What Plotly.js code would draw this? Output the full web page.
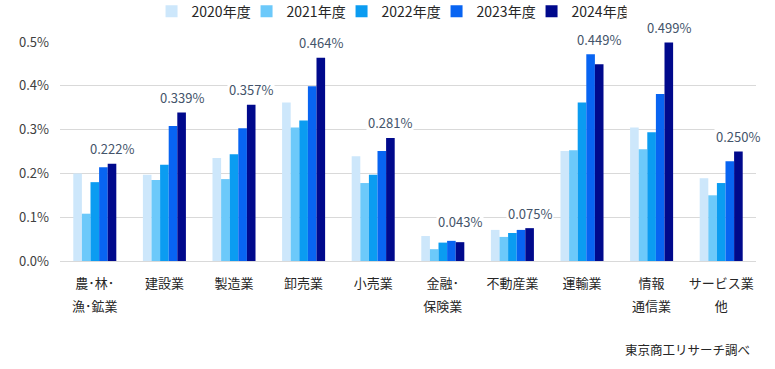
<!DOCTYPE html>
<html>
<head>
<meta charset="utf-8">
<script src="https://cdn.plot.ly/plotly-3.0.1.min.js"></script>
<style>html,body{margin:0;padding:0;background:#fff;}#chart{width:775px;height:369px;}</style>
</head>
<body>
<div id="chart"></div>
<script>
// Categories (two-line labels)
const categoriesLine1 = ["農･林･", "建設業", "製造業", "卸売業", "小売業", "金融･", "不動産業", "運輸業", "情報", "サービス業"];
const categoriesLine2 = ["漁･鉱業", "", "", "", "", "保険業", "", "", "通信業", "他"];

const seriesNames = ["2020年度", "2021年度", "2022年度", "2023年度", "2024年度"];
// values in %
const v2020 = [0.200, 0.197, 0.235, 0.362, 0.239, 0.057, 0.071, 0.251, 0.305, 0.189];
const v2021 = [0.108, 0.185, 0.187, 0.305, 0.178, 0.027, 0.055, 0.253, 0.255, 0.150];
const v2022 = [0.180, 0.220, 0.244, 0.321, 0.197, 0.042, 0.064, 0.362, 0.294, 0.178];
const v2023 = [0.214, 0.308, 0.303, 0.399, 0.251, 0.046, 0.071, 0.472, 0.381, 0.228];
const v2024 = [0.222, 0.339, 0.357, 0.464, 0.281, 0.043, 0.075, 0.449, 0.499, 0.250];
const yTickVals = [0, 0.1, 0.2, 0.3, 0.4, 0.5];
const sourceNote = "東京商工リサーチ調べ";

const colors = ["#cde7fb", "#6cc9fa", "#0b9cf1", "#0864f2", "#00098c"];
const allSeries = [v2020, v2021, v2022, v2023, v2024];
const FONT = "'Noto Sans CJK JP', 'Noto Sans', sans-serif";
const bargap = 0.382;

const xIdx = categoriesLine1.map((_, i) => i);
const tickText = categoriesLine1.map((a, i) => {
  const b = categoriesLine2[i];
  const s = '<span style="font-size:13px">' + a + '</span>';
  return b ? s + '<br><span style="font-size:13px">' + b + '</span>' : s;
});

const traces = allSeries.map((vals, k) => ({
  type: 'bar',
  name: seriesNames[k],
  x: xIdx,
  y: vals,
  marker: {color: colors[k], line: {width: 0}},
  hoverinfo: 'skip'
}));

// data labels for latest year
const nS = allSeries.length;
const barW = (1 - bargap) / nS;
const lastOffset = (nS - 1 - (nS - 1) / 2) * barW;
const annotations = v2024.map((v, i) => ({
  x: i + lastOffset,
  y: Math.max(...allSeries.map(s => s[i])),
  xref: 'x', yref: 'y',
  text: v.toFixed(3) + '%',
  showarrow: false,
  yanchor: 'middle',
  yshift: 15,
  bgcolor: '#ffffff',
  borderpad: 1,
  font: {family: FONT, size: 13, color: '#44546a'}
}));
annotations.push({
  x: 0.994, y: -0.403, xref: 'paper', yref: 'paper',
  xanchor: 'right', yanchor: 'middle',
  text: sourceNote, showarrow: false,
  font: {family: FONT, size: 12.5, color: '#262626'}
});

const layout = {
  width: 775, height: 369,
  margin: {l: 60, r: 19, t: 42, b: 108, pad: 0},
  paper_bgcolor: '#ffffff', plot_bgcolor: '#ffffff',
  font: {family: FONT, color: '#404040'},
  barmode: 'group',
  bargap: bargap,
  bargroupgap: 0,
  showlegend: true,
  legend: {
    orientation: 'h',
    xref: 'container', yref: 'container',
    x: 0.502, xanchor: 'center',
    y: 1 - 11.7 / 369, yanchor: 'middle',
    font: {family: FONT, size: 14, color: '#262626'},
    itemwidth: 30,
    entrywidth: 50,
    entrywidthmode: 'pixels',
    traceorder: 'normal',
    bgcolor: 'rgba(0,0,0,0)'
  },
  xaxis: {
    type: 'linear',
    range: [-0.5, categoriesLine1.length - 0.5],
    tickmode: 'array',
    tickvals: xIdx,
    ticktext: tickText,
    showgrid: false,
    zeroline: false,
    showline: false,
    ticks: '',
    tickfont: {family: FONT, size: 18, color: '#262626'},
    ticklabelstandoff: 8,
    fixedrange: true
  },
  yaxis: {
    range: [0, 0.5],
    tickmode: 'array',
    tickvals: yTickVals,
    ticktext: yTickVals.map(v => v.toFixed(1) + '%'),
    showgrid: true,
    gridcolor: '#d9d9d9',
    gridwidth: 1,
    zeroline: true,
    zerolinecolor: '#d9d9d9',
    zerolinewidth: 1,
    showline: false,
    ticks: '',
    tickfont: {family: FONT, size: 13, color: '#404040'},
    ticklabelstandoff: 10,
    fixedrange: true
  },
  annotations: annotations
};

Plotly.newPlot('chart', traces, layout, {displayModeBar: false, staticPlot: true});
</script>
</body>
</html>
